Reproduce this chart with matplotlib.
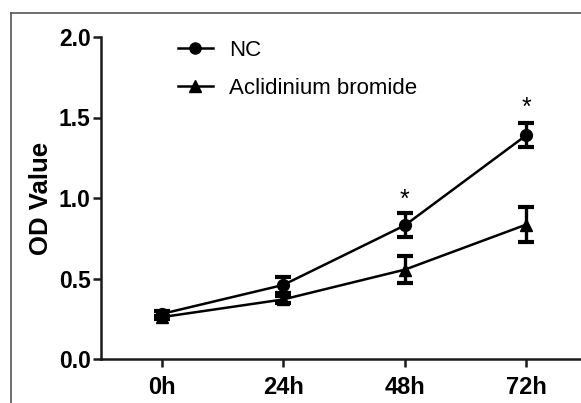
import matplotlib
matplotlib.use("Agg")
import matplotlib.pyplot as plt
from matplotlib.lines import Line2D

plt.rcParams['font.family'] = ['Liberation Sans', 'DejaVu Sans']

# data
timepoints = ["0h", "24h", "48h", "72h"]
nc_mean = [0.28, 0.46, 0.83, 1.39]
nc_err = [0.02, 0.05, 0.075, 0.075]
acl_mean = [0.26, 0.37, 0.555, 0.835]
acl_err = [0.01, 0.02, 0.085, 0.11]
star_idx = [2, 3]
star_y = [0.99, 1.56]

fig = plt.figure(figsize=(5.81, 4.03), dpi=100)
ax = fig.add_axes([101 / 581, 44 / 403, 480 / 581, 322 / 403])

xs = list(range(len(timepoints)))

err_kw = dict(color='black', elinewidth=2.4, capsize=6, capthick=3,
              linewidth=1.8, markersize=8.5, zorder=3)
ax.errorbar(xs, nc_mean, yerr=nc_err, marker='o', label='NC', **err_kw)
ax.errorbar(xs, acl_mean, yerr=acl_err, marker='^', label='Aclidinium bromide', **err_kw)

for i, y in zip(star_idx, star_y):
    ax.text(xs[i], y, '*', ha='center', va='center', fontsize=18)

ax.set_xlim(-0.5, 3.45)
ax.set_ylim(0, 2.0)
ax.set_yticks([0.0, 0.5, 1.0, 1.5, 2.0])
ax.set_yticklabels(['0.0', '0.5', '1.0', '1.5', '2.0'])
ax.set_xticks(xs)
ax.set_xticklabels(timepoints)

for lab in ax.get_yticklabels():
    lab.set_fontweight('bold')
    lab.set_fontsize(16.5)
for lab in ax.get_xticklabels():
    lab.set_fontweight('bold')
    lab.set_fontsize(17)

ax.tick_params(axis='both', width=1.8, length=5.5, color='#1a1a1a')
ax.tick_params(axis='x', pad=7)
ax.tick_params(axis='y', pad=2)
ax.spines['top'].set_visible(False)
ax.spines['right'].set_visible(False)
for s in ('left', 'bottom'):
    ax.spines[s].set_linewidth(1.8)
    ax.spines[s].set_color('#1a1a1a')

ax.set_ylabel('OD Value', fontsize=18.5, fontweight='bold')
ax.yaxis.set_label_coords(-0.10, 0.5)

handles = [
    Line2D([], [], color='black', marker='o', linewidth=1.8, markersize=8),
    Line2D([], [], color='black', marker='^', linewidth=1.8, markersize=8),
]
ax.legend(handles, ['NC', 'Aclidinium bromide'], loc='upper left',
          bbox_to_anchor=(0.16, 0.99), frameon=False, fontsize=16,
          handlelength=1.58, handletextpad=0.72, labelspacing=0.75,
          borderpad=0, borderaxespad=0)

# outer frame lines (top and left) of the cropped panel
fx = 11 / 581
fy = 1 - 13 / 403
fig.add_artist(Line2D([fx, 1], [fy, fy], color='#555555', linewidth=1.2,
                      transform=fig.transFigure))
fig.add_artist(Line2D([fx, fx], [0, fy], color='#555555', linewidth=1.2,
                      transform=fig.transFigure))

fig.savefig('out.png', dpi=100)
